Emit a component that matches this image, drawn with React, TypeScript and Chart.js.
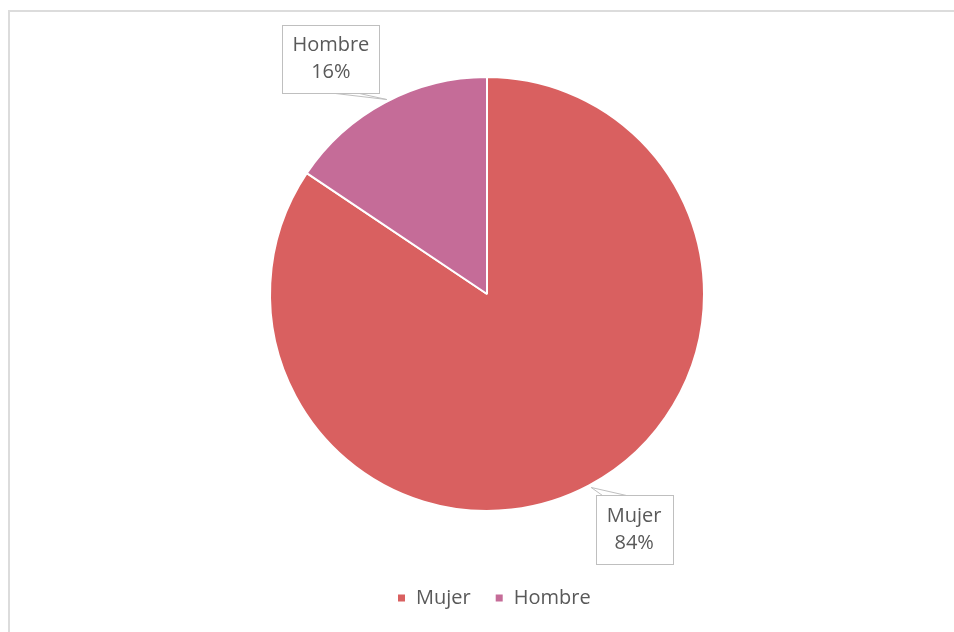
import React, { useEffect, useRef } from "react";
import { Chart, registerables } from "chart.js";

Chart.register(...registerables);

const categories = ["Mujer", "Hombre"];
const values = [84.4, 15.6];
const percentLabels = ["84%", "16%"];
const colors = ["#D96060", "#C56C98"];

const FONT = "'Open Sans', 'Liberation Sans', sans-serif";
const TEXT = "#595959";

// box centre offsets from the arc-edge anchor, per slice
const boxOffsets = [
  { dx: 45, dy: 44, w: 77, h: 69 },
  { dx: -54, dy: -44, w: 97, h: 68 },
];

const decorPlugin = {
  id: "decor",
  beforeDraw(chart: any) {
    const ctx = chart.ctx;
    ctx.save();
    ctx.fillStyle = "#ffffff";
    ctx.fillRect(0, 0, chart.width, chart.height);
    ctx.strokeStyle = "#dcdcdc";
    ctx.lineWidth = 2;
    ctx.strokeRect(9, 11, chart.width + 20, chart.height + 20);
    ctx.restore();
  },
  afterDraw(chart: any) {
    const ctx = chart.ctx;
    const meta = chart.getDatasetMeta(0);
    ctx.save();
    meta.data.forEach((arc: any, i: number) => {
      const mid = (arc.startAngle + arc.endAngle) / 2;
      const ax = arc.x + Math.cos(mid) * arc.outerRadius;
      const ay = arc.y + Math.sin(mid) * arc.outerRadius;
      const o = boxOffsets[i];
      const cx = ax + o.dx;
      const cy = ay + o.dy;
      const left = Math.round(cx - o.w / 2) + 0.5;
      const top = Math.round(cy - o.h / 2) + 0.5;
      // pointer
      ctx.strokeStyle = "#bfbfbf";
      ctx.lineWidth = 1;
      const edgeY = ay < cy ? top : top + o.h;
      const baseX = ax < cx ? left + 6 : left + o.w - 44;
      ctx.beginPath();
      ctx.moveTo(baseX, edgeY);
      ctx.lineTo(ax + 2, ay + (ay < cy ? 2 : -3));
      ctx.lineTo(baseX + 24, edgeY);
      ctx.stroke();
      // box
      ctx.fillStyle = "#ffffff";
      ctx.fillRect(left, top, o.w, o.h);
      ctx.strokeStyle = "#bfbfbf";
      ctx.strokeRect(left, top, o.w, o.h);
      ctx.fillStyle = TEXT;
      ctx.font = `20px ${FONT}`;
      ctx.textAlign = "center";
      ctx.textBaseline = "middle";
      ctx.fillText(chart.data.labels[i], cx, cy - 13);
      ctx.fillText(percentLabels[i], cx, cy + 14);
    });
    // legend
    const items = chart.data.labels as string[];
    ctx.font = `20px ${FONT}`;
    ctx.textAlign = "left";
    ctx.textBaseline = "middle";
    const box = 7;
    const gapMarker = 11;
    const gapItem = 25;
    const widths = items.map((t) => ctx.measureText(t).width);
    const total = widths.reduce((s, w) => s + box + gapMarker + w, 0) + gapItem * (items.length - 1);
    let x = Math.round(494 - total / 2);
    const ly = 598;
    items.forEach((t, i) => {
      ctx.fillStyle = colors[i];
      ctx.fillRect(x, ly - box / 2, box, box);
      x += box + gapMarker;
      ctx.fillStyle = TEXT;
      ctx.fillText(t, x, ly);
      x += widths[i] + gapItem;
    });
    ctx.restore();
  },
};

export default function App() {
  const ref = useRef<HTMLCanvasElement>(null);
  useEffect(() => {
    if (!ref.current) return;
    const chart = new Chart(ref.current, {
      type: "pie",
      data: {
        labels: categories,
        datasets: [
          {
            data: values,
            backgroundColor: colors,
            borderColor: "#ffffff",
            borderWidth: 2,
          },
        ],
      },
      options: {
        animation: false,
        responsive: false,
        maintainAspectRatio: false,
        layout: { padding: { left: 269, right: 249, top: 76, bottom: 120 } },
        plugins: {
          legend: { display: false },
          tooltip: { enabled: false },
        },
      },
      plugins: [decorPlugin],
    });
    return () => chart.destroy();
  }, []);
  return (
    <div style={{ position: "absolute", left: 0, top: 0, width: 954, height: 632 }}>
      <canvas ref={ref} width={954} height={632} style={{ width: 954, height: 632 }} />
    </div>
  );
}
